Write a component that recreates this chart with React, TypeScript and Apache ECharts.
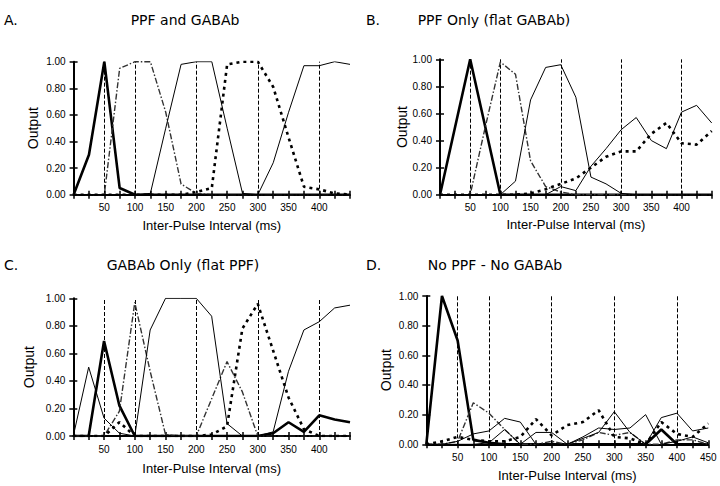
import React, { useEffect, useRef } from "react";
import * as echarts from "echarts";

// x positions (ms), sampled every 25 ms
const X_VALUES = [0, 25, 50, 75, 100, 125, 150, 175, 200, 225, 250, 275, 300, 325, 350, 375, 400, 425, 450];
const X_LABELS_AC = [50, 100, 150, 200, 250, 300, 350, 400];
const X_LABELS_D = [50, 100, 150, 200, 250, 300, 350, 400, 450];
const MARK_X = [50, 100, 200, 300, 400];

// Panel A: PPF and GABAb
const A_S1 = [0, 0.3, 1.0, 0.05, 0.0, 0, 0, 0, 0, 0, 0, 0, 0, 0, 0, 0, 0, 0, 0];
const A_S2 = [0, 0, 0, 0.95, 1.0, 1.0, 0.62, 0.08, 0.01, 0, 0, 0, 0, 0, 0, 0, 0, 0, 0];
const A_S3 = [0, 0, 0, 0, 0, 0.01, 0.5, 0.98, 1.0, 1.0, 0.5, 0.01, 0, 0, 0, 0, 0, 0, 0];
const A_S4 = [0, 0, 0, 0, 0, 0, 0, 0, 0.02, 0.05, 0.98, 1.0, 1.0, 0.81, 0.43, 0.06, 0.04, 0.01, 0];
const A_S5 = [0, 0, 0, 0, 0, 0, 0, 0, 0, 0, 0, 0, 0, 0.24, 0.62, 0.97, 0.97, 1.0, 0.98];

// Panel B: PPF Only (flat GABAb)
const B_S1 = [0, 0.5, 1.0, 0.5, 0, 0, 0, 0, 0, 0, 0, 0, 0, 0, 0, 0, 0, 0, 0];
const B_S2 = [0, 0, 0, 0.5, 0.98, 0.89, 0.25, 0.06, 0.02, 0, 0, 0, 0, 0, 0, 0, 0, 0, 0];
const B_S3 = [0, 0, 0, 0, 0, 0.1, 0.7, 0.94, 0.96, 0.72, 0.13, 0.08, 0.01, 0, 0, 0, 0, 0, 0];
const B_S4 = [0, 0, 0, 0, 0, 0, 0.01, 0.04, 0.08, 0.12, 0.2, 0.28, 0.32, 0.32, 0.45, 0.53, 0.38, 0.37, 0.47];
const B_S5 = [0, 0, 0, 0, 0, 0, 0, 0, 0.06, 0.03, 0.21, 0.34, 0.48, 0.57, 0.4, 0.34, 0.61, 0.66, 0.53];

// Panel C: GABAb Only (flat PPF)
const C_S1 = [0, 0, 0.69, 0.22, 0, 0, 0, 0, 0, 0, 0, 0, 0, 0.02, 0.1, 0.03, 0.15, 0.12, 0.1];
const C_S2 = [0, 0, 0, 0.18, 0.97, 0.47, 0.01, 0, 0, 0.27, 0.54, 0.32, 0, 0, 0, 0, 0, 0, 0];
const C_S3 = [0, 0, 0, 0, 0, 0.77, 1.0, 1.0, 1.0, 0.87, 0.09, 0, 0, 0, 0, 0, 0, 0, 0];
const C_S4 = [0, 0, 0, 0.1, 0, 0, 0, 0, 0, 0.01, 0.07, 0.78, 0.96, 0.62, 0.28, 0.05, 0, 0, 0];
const C_S5 = [0, 0.5, 0.13, 0.02, 0, 0, 0, 0, 0, 0, 0, 0, 0, 0.03, 0.47, 0.77, 0.83, 0.93, 0.95];

// Panel D: No PPF - No GABAb
const D_S1 = [0, 1.0, 0.7, 0.03, 0.01, 0, 0, 0, 0, 0, 0, 0, 0, 0, 0, 0.1, 0, 0, 0];
const D_S2 = [0, 0, 0.02, 0.28, 0.21, 0.1, 0, 0, 0.02, 0, 0.03, 0.08, 0.06, 0.08, 0, 0, 0.03, 0.03, 0];
const D_S3 = [0, 0, 0.02, 0.07, 0.09, 0.175, 0.15, 0, 0, 0, 0.04, 0.08, 0.22, 0.08, 0, 0.18, 0.21, 0.09, 0.11];
const D_S4 = [0, 0.02, 0.05, 0.03, 0.02, 0.02, 0.05, 0.17, 0.06, 0.13, 0.15, 0.23, 0.05, 0.04, 0, 0.15, 0.07, 0.05, 0.14];
const D_S5 = [0, 0, 0, 0, 0.01, 0.1, 0, 0.08, 0.08, 0, 0.05, 0.11, 0.1, 0.11, 0.2, 0, 0.02, 0.05, 0.01];

const PANEL_LETTERS = ["A.", "B.", "C.", "D."];
const PANEL_TITLES = ["PPF and GABAb", "PPF Only (flat GABAb)", "GABAb Only (flat PPF)", "No PPF - No GABAb"];
const Y_NAME = "Output";
const X_NAME = "Inter-Pulse Interval (ms)";

const FONT = "Liberation Sans, Arial, sans-serif";
const TITLE_FONT = "DejaVu Sans, sans-serif";

const GRIDS = [
  { left: 73.6, top: 61.7, width: 276.4, height: 133 },
  { left: 440, top: 59.3, width: 271.7, height: 135.4 },
  { left: 73.3, top: 298.3, width: 276.7, height: 137.7 },
  { left: 426.3, top: 296, width: 282, height: 148.3 },
];
const Y_NAME_GAP = [34, 31, 37, 33];
const X_NAME_GAP = [24, 23, 26, 25];
const TITLE_POS = [
  { lx: 4, cx: 185, y: 20 },
  { lx: 366, cx: 494, y: 20 },
  { lx: 4, cx: 183, y: 265 },
  { lx: 366, cx: 495, y: 265 },
];

const LINE_STYLES = [
  { width: 2.6, type: "solid", color: "#000" },
  { width: 1.4, type: [6, 2, 1.5, 2], color: "#333" },
  { width: 1, type: "solid", color: "#000" },
  { width: 2.6, type: [3, 4], color: "#000" },
  { width: 1, type: "solid", color: "#000" },
];

const PANELS = [
  [A_S1, A_S2, A_S3, A_S4, A_S5],
  [B_S1, B_S2, B_S3, B_S4, B_S5],
  [C_S1, C_S2, C_S3, C_S4, C_S5],
  [D_S1, D_S2, D_S3, D_S4, D_S5],
];

function buildOption() {
  const xAxis: any[] = [];
  const yAxis: any[] = [];
  const series: any[] = [];
  const graphic: any[] = [];

  GRIDS.forEach((g, i) => {
    const labels = i === 3 ? X_LABELS_D : X_LABELS_AC;
    xAxis.push({
      gridIndex: i,
      type: "value",
      min: 0,
      max: 450,
      interval: 25,
      position: "bottom",
      axisLine: { show: true, onZero: false, lineStyle: { color: "#000", width: 2 } },
      axisTick: { show: true, length: 4, lineStyle: { color: "#000", width: 1.5 } },
      axisLabel: {
        fontSize: 10,
        color: "#000",
        fontFamily: FONT,
        margin: 8,
        showMinLabel: true,
        showMaxLabel: true,
        formatter: (v: number) => (labels.indexOf(v) >= 0 ? String(v) : ""),
      },
      splitLine: { show: false },
      name: X_NAME,
      nameLocation: "middle",
      nameGap: X_NAME_GAP[i],
      nameTextStyle: { fontSize: 13, color: "#000", fontFamily: FONT },
    });
    xAxis.push({
      gridIndex: i,
      type: "value",
      min: 0,
      max: 450,
      interval: 25,
      position: "bottom",
      axisLine: { show: false, onZero: false },
      axisTick: { show: true, inside: true, length: 4, lineStyle: { color: "#000", width: 1.5 } },
      axisLabel: { show: false },
      splitLine: { show: false },
    });
    yAxis.push({
      gridIndex: i,
      type: "value",
      min: 0,
      max: 1,
      interval: 0.2,
      position: "left",
      axisLine: { show: true, onZero: false, lineStyle: { color: "#000", width: 2 } },
      axisTick: { show: true, length: 4, lineStyle: { color: "#000", width: 1.5 } },
      axisLabel: {
        fontSize: 10,
        color: "#000",
        fontFamily: FONT,
        margin: 8,
        formatter: (v: number) => v.toFixed(2),
      },
      splitLine: { show: false },
      name: Y_NAME,
      nameLocation: "middle",
      nameGap: Y_NAME_GAP[i],
      nameTextStyle: { fontSize: 14, color: "#000", fontFamily: FONT },
    });
    yAxis.push({
      gridIndex: i,
      type: "value",
      min: 0,
      max: 1,
      interval: 0.2,
      position: "left",
      axisLine: { show: false, onZero: false },
      axisTick: { show: true, inside: true, length: 4, lineStyle: { color: "#000", width: 1.5 } },
      axisLabel: { show: false },
      splitLine: { show: false },
    });

    PANELS[i].forEach((vals, k) => {
      const s: any = {
        type: "line",
        xAxisIndex: 2 * i,
        yAxisIndex: 2 * i,
        data: X_VALUES.map((x, j) => [x, vals[j]]),
        symbol: "none",
        showSymbol: false,
        silent: true,
        lineStyle: { ...LINE_STYLES[k] },
        z: 3,
      };
      if (k === 0) {
        s.markLine = {
          silent: true,
          symbol: "none",
          label: { show: false },
          lineStyle: { color: "#000", width: 1, type: [4, 2] },
          data: MARK_X.map((m) => [{ coord: [m, 0] }, { coord: [m, 1] }]),
          z: 2,
        };
      }
      series.push(s);
    });

    const tp = TITLE_POS[i];
    graphic.push({
      type: "text",
      x: tp.lx,
      y: tp.y,
      style: {
        text: PANEL_LETTERS[i],
        fontSize: 14,
        fontFamily: TITLE_FONT,
        fill: "#000",
        align: "left",
        verticalAlign: "middle",
      },
    });
    graphic.push({
      type: "text",
      x: tp.cx,
      y: tp.y,
      style: {
        text: PANEL_TITLES[i],
        fontSize: 14,
        fontFamily: TITLE_FONT,
        fill: "#000",
        align: "center",
        verticalAlign: "middle",
      },
    });
  });

  return {
    animation: false,
    backgroundColor: "#fff",
    grid: GRIDS.map((g) => ({ ...g, containLabel: false })),
    xAxis,
    yAxis,
    series,
    graphic,
  };
}

export default function App() {
  const ref = useRef<HTMLDivElement | null>(null);
  useEffect(() => {
    if (!ref.current) return;
    const chart = echarts.init(ref.current, undefined, { renderer: "svg" });
    chart.setOption(buildOption() as any);
    return () => chart.dispose();
  }, []);
  return (
    <div
      ref={ref}
      style={{ position: "fixed", left: 0, top: 0, width: 720, height: 486, background: "#fff" }}
    />
  );
}
